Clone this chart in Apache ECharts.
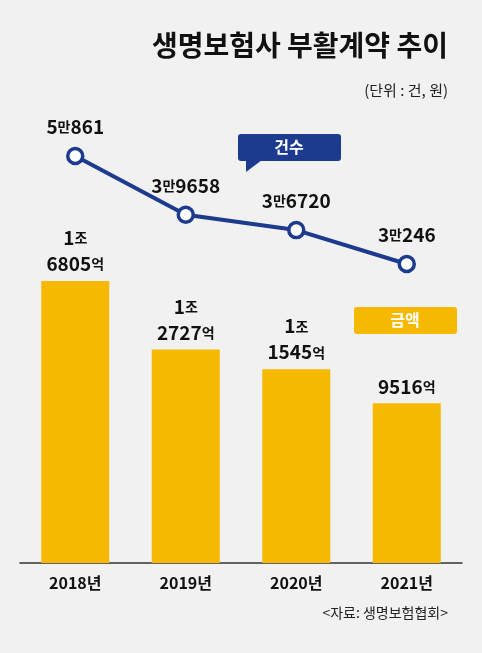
<!DOCTYPE html>
<html><head><meta charset="utf-8">
<script src="https://cdn.jsdelivr.net/npm/echarts@6/dist/echarts.min.js"></script>
<style>html,body{margin:0;padding:0;background:#f1f1f1}#c{width:482px;height:653px}</style>
</head><body><div id="c"></div>
<script>
const categories = ['2018년','2019년','2020년','2021년'];
const amountEok = [16805, 12727, 11545, 9516];
const countCases = [50861, 39658, 36720, 30246];
const title = '생명보험사 부활계약 추이';
const unitText = '(단위 : 건, 원)';
const sourceText = '<자료: 생명보험협회>';

const F = '"Noto Sans CJK KR", "Noto Sans", sans-serif';
function amtLabel(v){
  const jo = Math.floor(v/10000), r = v%10000;
  return jo ? '{n|'+jo+'}{u|조}\n{n|'+r+'}{u|억}' : '{n|'+r+'}{u|억}';
}
function cntLabel(v){
  return '{n|'+Math.floor(v/10000)+'}{u|만}{n|'+(v%10000)+'}';
}
const rich = {n:{fontSize:19,fontWeight:'bold',color:'#111',fontFamily:F,lineHeight:26},
              u:{fontSize:14,fontWeight:'bold',color:'#111',fontFamily:F,lineHeight:26}};
const chart = echarts.init(document.getElementById('c'));
chart.setOption({
  backgroundColor:'#f1f1f1',
  animation:false,
  grid:{left:20,right:20,top:100,bottom:90},
  xAxis:{type:'category',data:categories,axisTick:{show:false},
    axisLine:{lineStyle:{color:'#333',width:1.5}},
    axisLabel:{color:'#111',fontSize:16,fontWeight:'bold',fontFamily:F,margin:12}},
  yAxis:[{type:'value',min:0,max:27593,show:false,splitLine:{show:false}},
         {type:'value',min:-26833,max:61554,show:false,splitLine:{show:false}}],
  series:[
    {type:'bar',data:amountEok,barWidth:68,itemStyle:{color:'#f6b800'},
     label:{show:true,position:'top',distance:4,formatter:p=>amtLabel(p.value),rich,align:'center'}},
    {type:'line',yAxisIndex:1,data:countCases,symbol:'circle',symbolSize:15,
     lineStyle:{color:'#1c3a8e',width:4},
     itemStyle:{color:'#fff',borderColor:'#1c3a8e',borderWidth:3.5},
     label:{show:true,position:'top',distance:7,formatter:p=>cntLabel(p.value),rich}}
  ],
  graphic:[
    {type:'text',right:34,top:31,style:{text:title,fontSize:28,fontWeight:'bold',fill:'#111',fontFamily:F}},
    {type:'text',right:34,top:83,style:{text:unitText,fontSize:15,fill:'#222',fontFamily:F}},
    {type:'rect',shape:{x:238,y:134,width:103,height:27,r:3},style:{fill:'#1c3a8e'}},
    {type:'polygon',shape:{points:[[246,160],[262,160],[246,172]]},style:{fill:'#1c3a8e'}},
    {type:'text',x:289,y:147,style:{text:'건수',fontSize:16,fontWeight:'bold',fill:'#fff',align:'center',verticalAlign:'middle',fontFamily:F}},
    {type:'rect',shape:{x:354,y:307,width:103,height:27,r:3},style:{fill:'#f6b800'}},
    {type:'text',x:405,y:320,style:{text:'금액',fontSize:16,fontWeight:'bold',fill:'#fff',align:'center',verticalAlign:'middle',fontFamily:F}},
    {type:'text',right:34,top:606,style:{text:sourceText,fontSize:14,fill:'#222',fontFamily:F}}
  ]
});
</script></body></html>
